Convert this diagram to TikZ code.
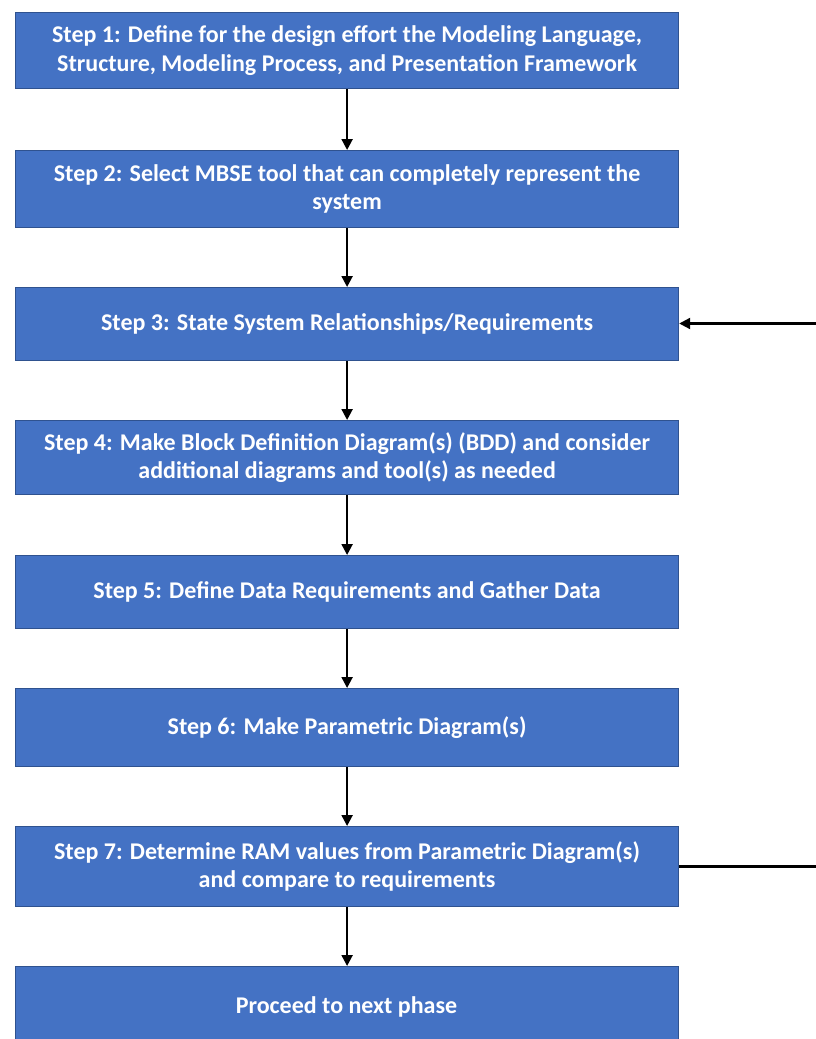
\documentclass[tikz,border=0pt]{standalone}
\usepackage{fontspec}
\setmainfont{Carlito}
\usetikzlibrary{arrows.meta}
\definecolor{boxfill}{HTML}{4472C4}
\definecolor{boxline}{HTML}{2F528F}
\begin{document}
\begin{tikzpicture}[x=1pt,y=-1pt,
  stepbox/.style={draw=boxline,line width=1.2pt,fill=boxfill,text=white,
    font=\fontsize{24}{28.5}\selectfont\bfseries,align=center,
    minimum width=663pt,inner sep=0pt,anchor=north west},
  conn/.style={line width=2.2pt,-{Triangle[length=11pt,width=11pt]}}]
\useasboundingbox (0,0) rectangle (816,1039);
\clip (0,0) rectangle (816,1039);
\node[stepbox,minimum height=76pt] (s1) at (15,12) {Step 1: Define for the design effort the Modeling Language,\\Structure, Modeling Process, and Presentation Framework};
\node[stepbox,minimum height=77pt] (s2) at (15,150) {Step 2: Select MBSE tool that can completely represent the\\system};
\node[stepbox,minimum height=73pt] (s3) at (15,287) {Step 3: State System Relationships/Requirements};
\node[stepbox,minimum height=74pt] (s4) at (15,420) {Step 4: Make Block Definition Diagram(s) (BDD) and consider\\additional diagrams and tool(s) as needed};
\node[stepbox,minimum height=73pt] (s5) at (15,555) {Step 5: Define Data Requirements and Gather Data};
\node[stepbox,minimum height=78pt] (s6) at (15,688) {Step 6: Make Parametric Diagram(s)};
\node[stepbox,minimum height=80pt] (s7) at (15,826) {Step 7: Determine RAM values from Parametric Diagram(s)\\and compare to requirements};
\node[stepbox,minimum height=146pt] (s8) at (15,966) {};
\node[text=white,font=\fontsize{24}{28.5}\selectfont\bfseries] (s8t) at (346.5,1007) {Proceed to next phase};
\draw[conn] (s1) -- (s2);
\draw[conn] (s2) -- (s3);
\draw[conn] (s3) -- (s4);
\draw[conn] (s4) -- (s5);
\draw[conn] (s5) -- (s6);
\draw[conn] (s6) -- (s7);
\draw[conn] (s7) -- (s8);
\coordinate (in3) at (820,323.5);
\coordinate (out7) at (820,866.5);
\draw[conn] (in3) -- (in3 -| s3.east);
\draw[line width=2.2pt] (out7 -| s7.east) -- (out7);
\end{tikzpicture}
\end{document}
